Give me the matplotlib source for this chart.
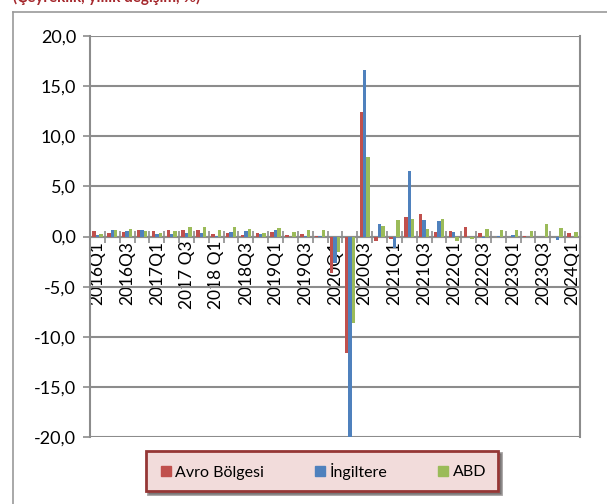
import numpy as np
import matplotlib
matplotlib.use("Agg")
import matplotlib.pyplot as plt
from matplotlib.lines import Line2D
from matplotlib.ticker import FuncFormatter, FixedLocator

plt.rcParams['font.family'] = ['Lato', 'DejaVu Sans']

quarters = ['2016Q1', '2016Q2', '2016Q3', '2016Q4', '2017Q1', '2017Q2', '2017 Q3', '2017Q4',
            '2018 Q1', '2018Q2', '2018Q3', '2018Q4', '2019Q1', '2019Q2', '2019Q3', '2019Q4',
            '2020Q1', '2020Q2', '2020Q3', '2020Q4', '2021Q1', '2021Q2', '2021Q3', '2021Q4',
            '2022Q1', '2022Q2', '2022Q3', '2022Q4', '2023Q1', '2023Q2', '2023Q3', '2023Q4',
            '2024Q1']

avro = [0.5, 0.3, 0.45, 0.67, 0.5, 0.67, 0.65, 0.68, 0.27, 0.33, 0.17, 0.3, 0.43, 0.17, 0.27, 0.05,
        -3.6, -11.6, 12.4, -0.4, -0.2, 1.9, 2.2, 0.45, 0.55, 0.9, 0.33, 0.0, 0.0, 0.05, -0.07, 0.0,
        0.33]
ingiltere = [0.1, 0.6, 0.5, 0.6, 0.27, 0.25, 0.33, 0.33, 0.05, 0.48, 0.55, 0.2, 0.63, 0.0, 0.05, 0.02,
             -2.6, -20.3, 16.6, 1.2, -1.1, 6.5, 1.65, 1.5, 0.45, 0.0, -0.1, 0.07, 0.13, 0.0, 0.0, -0.33,
             0.0]
abd = [0.2, 0.6, 0.77, 0.5, 0.35, 0.57, 0.9, 0.97, 0.62, 0.95, 0.75, 0.37, 0.82, 0.43, 0.68, 0.65,
       -1.5, -8.6, 7.9, 1.0, 1.6, 1.75, 0.7, 1.75, -0.45, -0.2, 0.77, 0.6, 0.6, 0.57, 1.27, 0.87,
       0.43]

red = '#C0504D'
blue = '#4F81BD'
green = '#9BBB59'
gray = '#8C8C8C'

fig = plt.figure(figsize=(6.07, 5.04), dpi=100)
W, H = 607, 504
ax = fig.add_axes([90 / W, (H - 437) / H, 490 / W, 401 / H])

x = np.arange(len(quarters))
w = 0.23
ax.bar(x - w, avro, w, color=red, zorder=3)
ax.bar(x, ingiltere, w, color=blue, zorder=3)
ax.bar(x + w, abd, w, color=green, zorder=3)

ax.set_xlim(-0.5, len(quarters) - 0.5)
ax.set_ylim(-20, 20)
ax.set_yticks(np.arange(-20, 21, 5))
ax.yaxis.set_major_formatter(FuncFormatter(lambda v, p: ('%.1f' % v).replace('.', ',')))
ax.yaxis.grid(True, color=gray, linewidth=1.5, zorder=1)
ax.tick_params(axis='y', length=5, width=1.2, color=gray, labelsize=13, pad=5)

# x ekseni sifirda
ax.spines['bottom'].set_position(('data', 0))
ax.xaxis.set_major_locator(FixedLocator(x[::2]))
ax.set_xticklabels(quarters[::2], rotation=90, fontsize=12.5, va='top')
ax.xaxis.set_minor_locator(FixedLocator(np.arange(-0.5, len(quarters), 1)))
ax.tick_params(axis='x', which='major', length=0, pad=3)
ax.tick_params(axis='x', which='minor', length=9, width=1.2, color=gray, direction='inout')

for s in ['left', 'right', 'bottom']:
    ax.spines[s].set_color(gray)
    ax.spines[s].set_linewidth(1.5)
ax.spines['top'].set_visible(False)

# cerceve
fig.add_artist(Line2D([13 / W, 13 / W], [0, 1 - 12 / H], color='#999999', lw=1.2))
fig.add_artist(Line2D([13 / W, 1], [1 - 12 / H, 1 - 12 / H], color='#999999', lw=1.2))

fig.text(13 / W, 1 + 3 / H, '(Çeyreklik, yıllık değişim, %)', color='#A5282D', fontsize=11,
         fontweight='bold', va='center', ha='left')

handles = [Line2D([], [], marker='s', ls='', color=c, markersize=7) for c in (red, blue, green)]
leg = fig.legend(handles, ['Avro Bölgesi', 'İngiltere', 'ABD'], loc='center',
                 bbox_to_anchor=(322 / W, 1 - 471 / H), ncol=3, fontsize=11.5, frameon=True,
                 fancybox=False, shadow=True, handletextpad=0.1, columnspacing=3.0,
                 borderpad=0.75, handlelength=1.0)
frame = leg.get_frame()
frame.set_facecolor('#F2DCDB')
frame.set_edgecolor('#953735')
frame.set_linewidth(2)
frame.set_alpha(1)

fig.savefig('out.png', dpi=100)
